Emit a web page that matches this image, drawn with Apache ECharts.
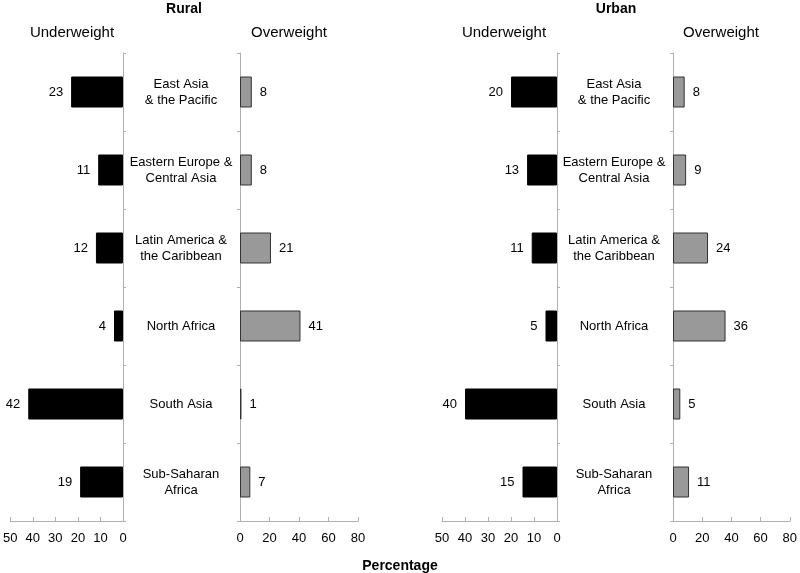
<!DOCTYPE html>
<html>
<head>
<meta charset="utf-8">
<script src="https://cdn.jsdelivr.net/npm/echarts@6/dist/echarts.min.js"></script>
<style>
  html, body { margin: 0; padding: 0; background: #fff; }
  #chart { width: 800px; height: 573px; }
</style>
</head>
<body>
<div id="chart"></div>
<script>
// 区域 (label line breaks as in the figure)
const regions = [
  'East Asia\n& the Pacific',
  'Eastern Europe &\nCentral Asia',
  'Latin America &\nthe Caribbean',
  'North Africa',
  'South Asia',
  'Sub-Saharan\nAfrica'
];

const ruralUnder = [23, 11, 12, 4, 42, 19];
const ruralOver = [8, 8, 21, 41, 1, 7];
const urbanUnder = [20, 13, 11, 5, 40, 15];
const urbanOver = [8, 9, 24, 36, 5, 11];

const FONT = '"Liberation Sans", Arial, sans-serif';
const AXIS_GRAY = '#b0b0b0';

const chart = echarts.init(document.getElementById('chart'));

const grids = [
  { left: 7, width: 116, top: 53, bottom: 52 },
  { left: 240, width: 118, top: 53, bottom: 52 },
  { left: 442, width: 115, top: 53, bottom: 52 },
  { left: 673, width: 117, top: 53, bottom: 52 }
];

function xAxisFor(idx, max, interval, inverse) {
  return {
    type: 'value',
    gridIndex: idx,
    min: 0,
    max: max,
    interval: interval,
    inverse: inverse,
    splitLine: { show: false },
    axisLine: { show: true, lineStyle: { color: AXIS_GRAY, width: 1 } },
    axisTick: { show: true, inside: true, length: 4, lineStyle: { color: AXIS_GRAY } },
    axisLabel: { color: '#000', fontSize: 13, fontFamily: FONT, margin: 11 }
  };
}

function yAxisFor(idx, position, showLabels) {
  return {
    type: 'category',
    gridIndex: idx,
    data: regions,
    inverse: true,
    position: position,
    axisLine: { show: true, lineStyle: { color: AXIS_GRAY, width: 1 } },
    axisTick: { show: true, length: 3, lineStyle: { color: AXIS_GRAY } },
    axisLabel: showLabels ? {
      show: true,
      align: 'center',
      margin: 59,
      color: '#000',
      fontSize: 13,
      lineHeight: 16,
      fontFamily: FONT
    } : { show: false }
  };
}

function underSeries(idx, data) {
  return {
    type: 'bar',
    xAxisIndex: idx,
    yAxisIndex: idx,
    data: data,
    barWidth: 31,
    itemStyle: { color: '#000', borderColor: '#000', borderWidth: 1 },
    label: {
      show: true, position: 'left', distance: 8,
      color: '#000', fontSize: 13, fontFamily: FONT
    },
    silent: true
  };
}

function overSeries(idx, data) {
  return {
    type: 'bar',
    xAxisIndex: idx,
    yAxisIndex: idx,
    data: data,
    barWidth: 31,
    itemStyle: { color: '#999999', borderColor: '#333', borderWidth: 1 },
    label: {
      show: true, position: 'right', distance: 8,
      color: '#000', fontSize: 13, fontFamily: FONT
    },
    silent: true
  };
}

function head(text, left, top, bold, size) {
  return {
    text: text,
    left: left,
    top: top,
    padding: 0,
    textAlign: 'center',
    textStyle: {
      color: '#000',
      fontSize: size,
      fontWeight: bold ? 'bold' : 'normal',
      fontFamily: FONT
    }
  };
}

const option = {
  backgroundColor: '#fff',
  animation: false,
  title: [
    head('Rural', 184, 2, true, 14),
    head('Urban', 616, 2, true, 14),
    head('Underweight', 72, 25, false, 15),
    head('Overweight', 289, 25, false, 15),
    head('Underweight', 504, 25, false, 15),
    head('Overweight', 721, 25, false, 15),
    head('Percentage', 400, 559, true, 14)
  ],
  grid: grids,
  xAxis: [
    xAxisFor(0, 50, 10, true),
    xAxisFor(1, 80, 20, false),
    xAxisFor(2, 50, 10, true),
    xAxisFor(3, 80, 20, false)
  ],
  yAxis: [
    yAxisFor(0, 'right', false),
    yAxisFor(1, 'left', true),
    yAxisFor(2, 'right', false),
    yAxisFor(3, 'left', true)
  ],
  series: [
    underSeries(0, ruralUnder),
    overSeries(1, ruralOver),
    underSeries(2, urbanUnder),
    overSeries(3, urbanOver)
  ]
};

chart.setOption(option);
</script>
</body>
</html>
